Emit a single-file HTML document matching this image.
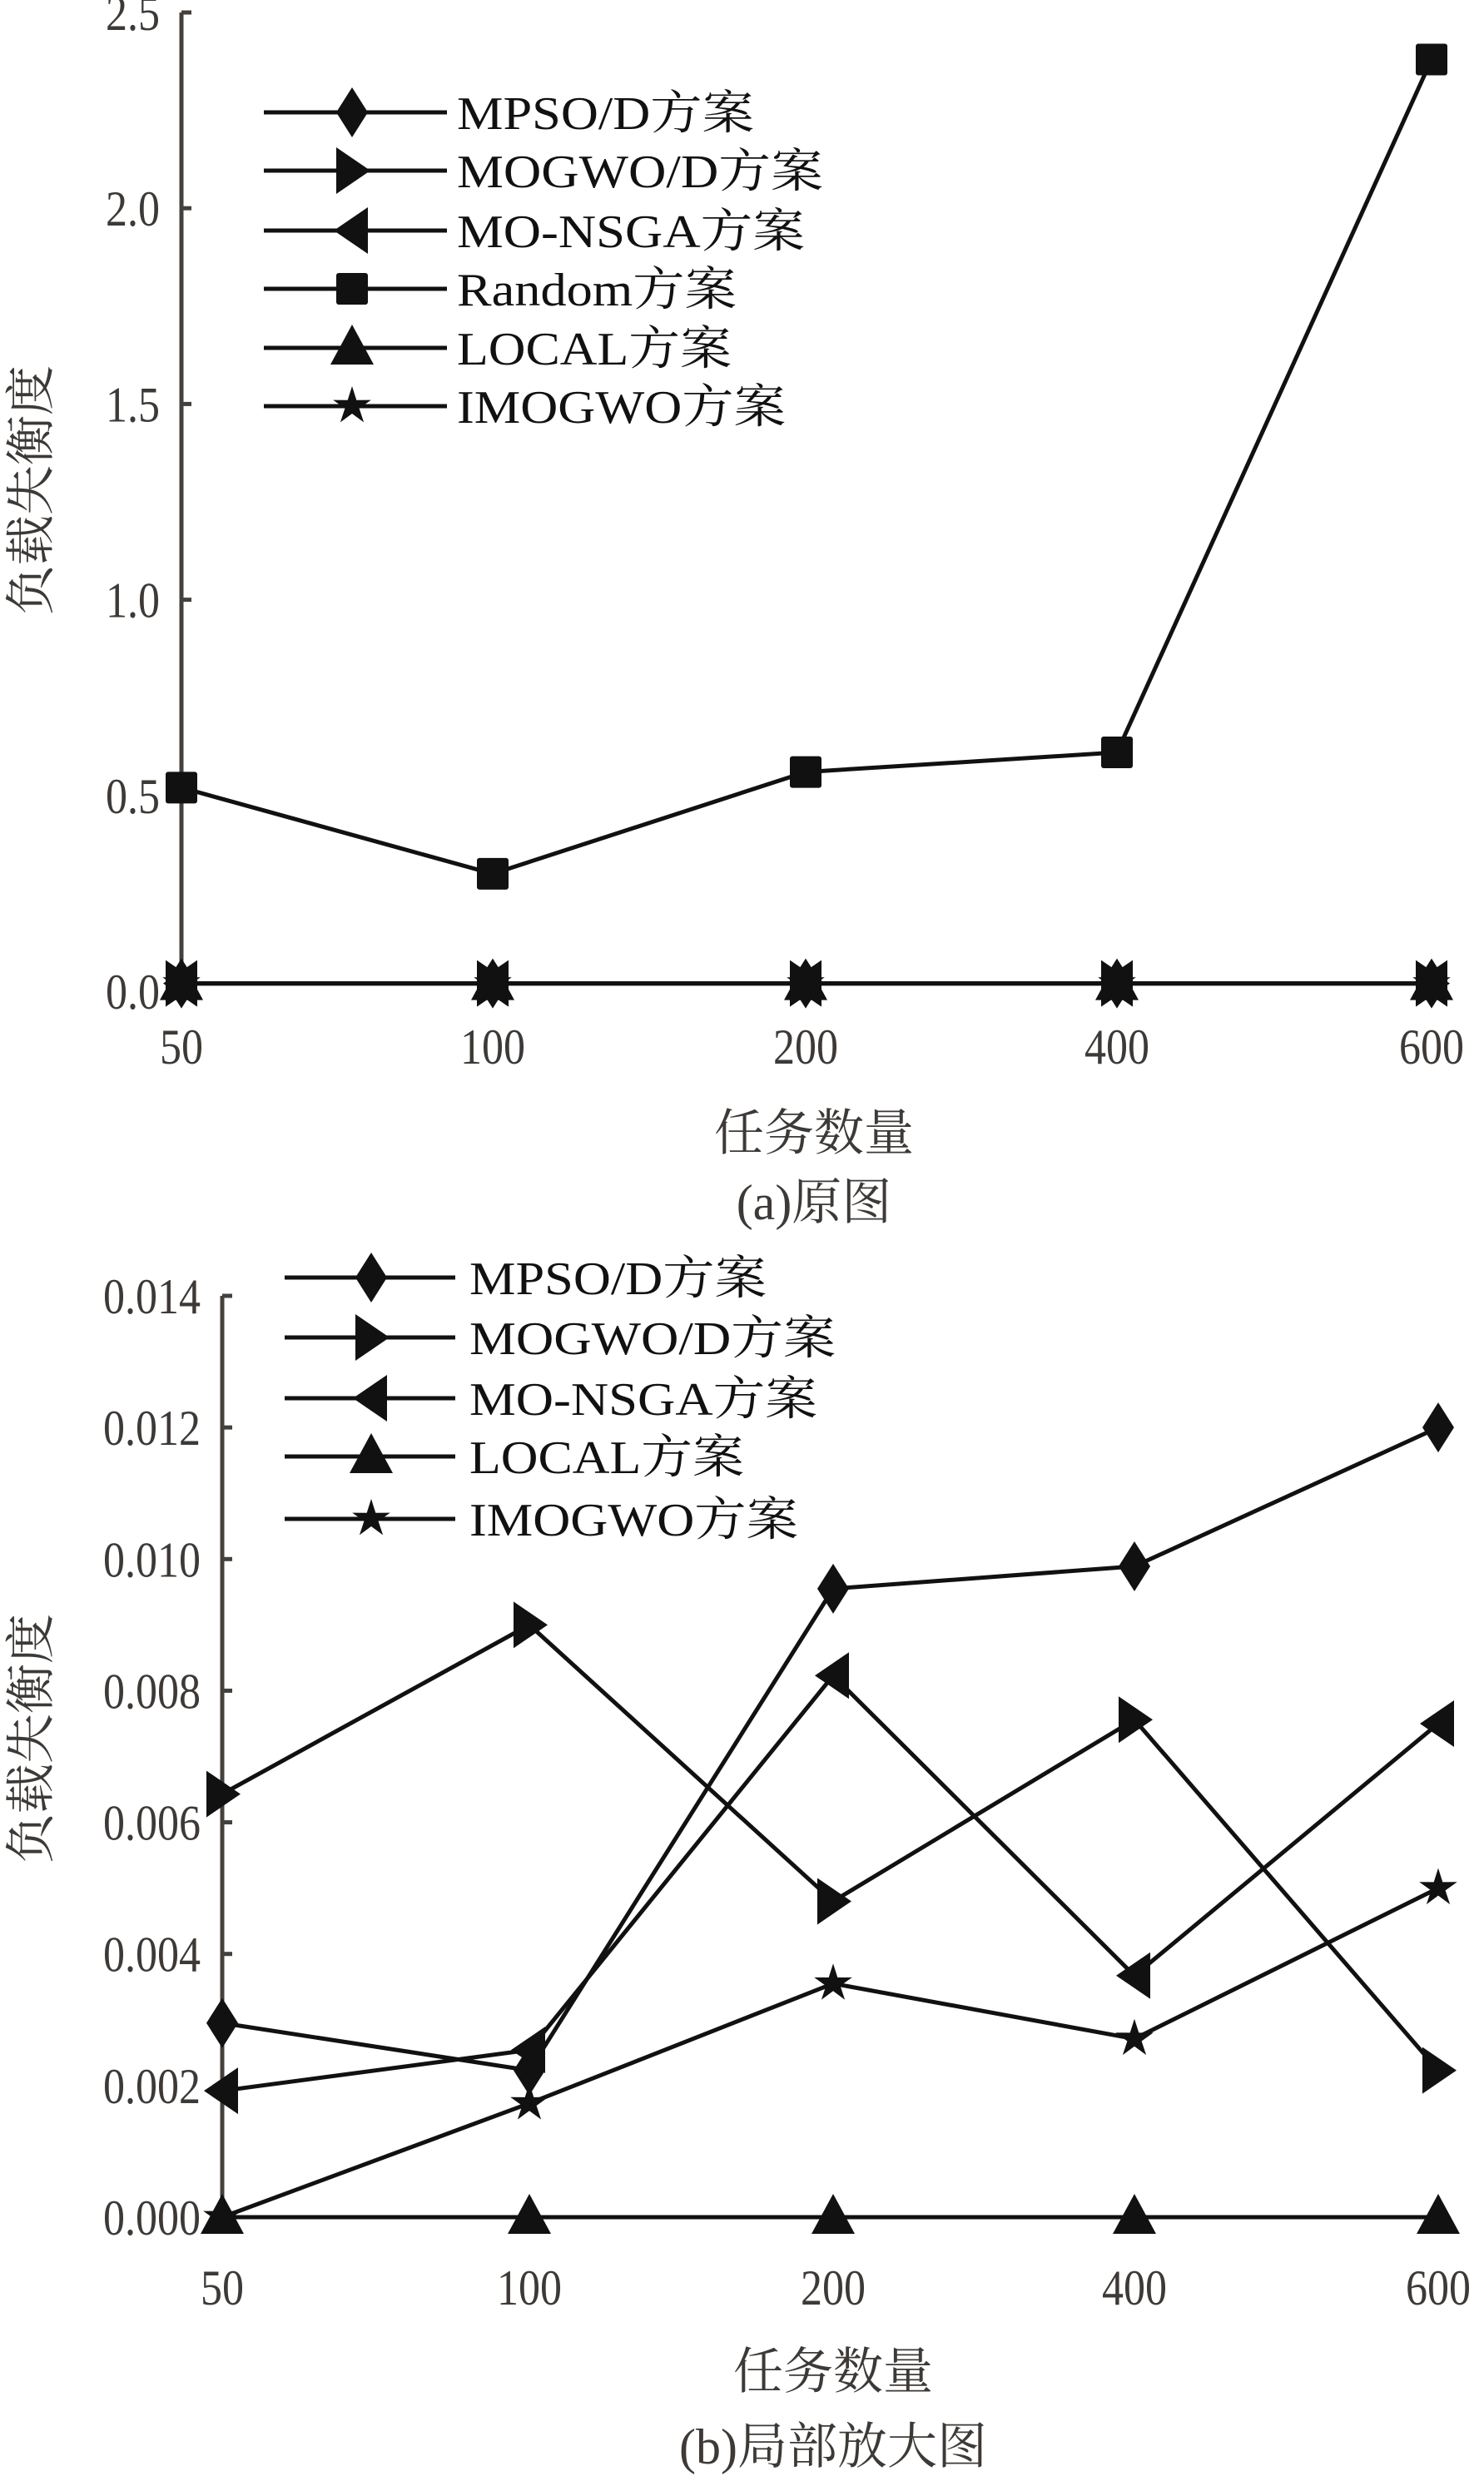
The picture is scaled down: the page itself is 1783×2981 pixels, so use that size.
<!DOCTYPE html>
<html><head><meta charset="utf-8"><style>
html,body{margin:0;padding:0;background:#fff;}
svg{display:block;}
.tk{font-family:"Liberation Serif","Noto Serif CJK SC",serif;font-size:60px;fill:#3d3936;}
.tt{font-family:"Liberation Serif","Noto Serif CJK SC",serif;font-size:60px;fill:#3d3936;}
.lg{font-family:"Liberation Serif","Noto Serif CJK SC",serif;font-size:56px;fill:#111;}
</style></head><body>
<svg id="c" width="1783" height="2981" viewBox="0 0 1783 2981" xmlns="http://www.w3.org/2000/svg"></svg>
<script>
// ---- data ----
const categories = ["50","100","200","400","600"];
// chart (a)
const aRandom = [0.52, 0.30, 0.56, 0.61, 2.38];
const aMPSO = [0.02, 0.02, 0.02, 0.02, 0.02];
const aMOGWO = [0.02, 0.02, 0.02, 0.02, 0.02];
const aNSGA = [0.02, 0.02, 0.02, 0.02, 0.02];
const aLOCAL = [0.02, 0.02, 0.02, 0.02, 0.02];
const aIMOGWO = [0.02, 0.02, 0.02, 0.02, 0.02];
const aTicks = ["0.0","0.5","1.0","1.5","2.0","2.5"];
const aTickVals = [0, 0.5, 1.0, 1.5, 2.0, 2.5];
// chart (b)
const bMPSO = [0.00295, 0.00223, 0.00955, 0.00989, 0.0120];
const bMOGWO = [0.00643, 0.0090, 0.0048, 0.00756, 0.00223];
const bNSGA = [0.00192, 0.00254, 0.00823, 0.00367, 0.0075];
const bLOCAL = [0, 0, 0, 0, 0];
const bIMOGWO = [0, 0.00173, 0.00355, 0.00271, 0.0050];
const bTicks = ["0.000","0.002","0.004","0.006","0.008","0.010","0.012","0.014"];
const bTickVals = [0,0.002,0.004,0.006,0.008,0.010,0.012,0.014];

const NS = "http://www.w3.org/2000/svg";
const svg = document.getElementById('c');
function el(tag, attrs, parent){ const e=document.createElementNS(NS,tag); for(const k in attrs) e.setAttribute(k,attrs[k]); (parent||svg).appendChild(e); return e; }
function tw(s){ let w=0; for(const ch of s) w += (ch==='.')?13:26; return w; }

function marker(g, type, x, y){
  let m;
  if(type==='diamond') m=el('polygon',{points:`${x},${y-30} ${x+19},${y} ${x},${y+30} ${x-19},${y}`,fill:'#111'},g);
  else if(type==='right') m=el('polygon',{points:`${x-19},${y-28} ${x+22},${y} ${x-19},${y+28}`,fill:'#111'},g);
  else if(type==='left') m=el('polygon',{points:`${x+19},${y-28} ${x-22},${y} ${x+19},${y+28}`,fill:'#111'},g);
  else if(type==='square') m=el('rect',{x:x-19,y:y-19,width:38,height:38,rx:3,fill:'#111'},g);
  else if(type==='triangle') m=el('polygon',{points:`${x},${y-28} ${x+26},${y+20} ${x-26},${y+20}`,fill:'#111'},g);
  else if(type==='star'){
    let p=[]; for(let i=0;i<10;i++){const r=i%2?9:24; const a=-Math.PI/2+i*Math.PI/5; p.push((x+r*Math.cos(a)).toFixed(1)+','+(y+r*Math.sin(a)).toFixed(1));}
    m=el('polygon',{points:p.join(' '),fill:'#111'},g);
  }
  return m;
}

function chart(cfg){
  const g = el('g',{});
  
  
  const xs = v => cfg.xpos[v];
  const ys = v => cfg.y0 - (v - cfg.vmin)/(cfg.vmax-cfg.vmin)*(cfg.y0-cfg.ytop);
  const ax = el('line',{x1:cfg.ax,y1:cfg.ytop,x2:cfg.ax,y2:cfg.y0,stroke:'#45403c','stroke-width':5},g);
  
  
  cfg.tickVals.forEach((v,i)=>{
    const y=ys(v);
    const t=el('line',{x1:cfg.ax,y1:y,x2:cfg.ax+12,y2:y,stroke:'#45403c','stroke-width':5},g);
    
    
    const tx=el('text',{x:cfg.ax-26,y:y+21,'text-anchor':'end',class:'tk',textLength:tw(cfg.ticks[i]),lengthAdjust:'spacingAndGlyphs'},g);
    tx.textContent=cfg.ticks[i];
    
    
  });
  categories.forEach((c,i)=>{
    const tx=el('text',{x:xs(i),y:cfg.xlabY,'text-anchor':'middle',class:'tk',textLength:tw(c),lengthAdjust:'spacingAndGlyphs'},g);
    tx.textContent=c;
    
    
  });
  cfg.series.forEach(s=>{
    const sg=el('g',{},g);
    
    
    const pts=s.vals.map((v,i)=>xs(i)+','+ys(v)).join(' ');
    el('polyline',{points:pts,fill:'none',stroke:'#111','stroke-width':5,'stroke-linejoin':'round'},sg);
    s.vals.forEach((v,i)=>{
      const m=marker(sg,s.m,xs(i),ys(v));
      
      
    });
  });
  cfg.legend.forEach((s,i)=>{
    const lg=el('g',{},g);
    
    
    const y=cfg.legY[i];
    el('line',{x1:cfg.legX1,y1:y,x2:cfg.legX2,y2:y,stroke:'#111','stroke-width':5},lg);
    marker(lg,s.m,cfg.legM,y);
    const t=el('text',{x:cfg.legT,y:y+20,class:'lg',textLength:s.w,lengthAdjust:'spacingAndGlyphs'},lg);
    t.textContent=s.label;
  });
  const xt=el('text',{x:cfg.titleX,y:cfg.xTitleY,'text-anchor':'middle',class:'tt'},g);
  xt.textContent='任务数量';
  
  
  const cap=el('text',{x:cfg.titleX,y:cfg.capY,'text-anchor':'middle',class:'tt'},g);
  cap.textContent=cfg.caption;
  
  
  const yt=el('text',{x:0,y:0,'text-anchor':'middle',class:'tt',transform:`translate(${cfg.yTitleX},${cfg.yTitleY}) rotate(-90)`},g);
  yt.textContent='负载失衡度';
  
  
}

chart({name:'chart-a-original', ax:218, ytop:15, y0:1191, vmin:0, vmax:2.5,
  xpos:[218,592,968,1342,1720], ticks:aTicks, tickVals:aTickVals, xlabY:1278,
  series:[
    {key:'random',m:'square',vals:aRandom},
    {key:'mpso',m:'diamond',vals:aMPSO},
    {key:'mogwo',m:'right',vals:aMOGWO},
    {key:'nsga',m:'left',vals:aNSGA},
    {key:'local',m:'triangle',vals:aLOCAL},
    {key:'imogwo',m:'star',vals:aIMOGWO}],
  legend:[
    {m:'diamond',label:'MPSO/D方案',w:357},
    {m:'right',label:'MOGWO/D方案',w:440},
    {m:'left',label:'MO-NSGA方案',w:418},
    {m:'square',label:'Random方案',w:336},
    {m:'triangle',label:'LOCAL方案',w:330},
    {m:'star',label:'IMOGWO方案',w:395}],
  legY:[135,205,277,347,418,488], legX1:317, legX2:537, legM:423, legT:549,
  titleX:978, xTitleY:1382, capY:1465, yTitleX:58, yTitleY:589, caption:'(a)原图'});

chart({name:'chart-b-zoomed', ax:267, ytop:1557, y0:2664, vmin:0, vmax:0.014,
  xpos:[267,636,1001,1363,1728], ticks:bTicks, tickVals:bTickVals, xlabY:2769,
  series:[
    {key:'mpso',m:'diamond',vals:bMPSO},
    {key:'mogwo',m:'right',vals:bMOGWO},
    {key:'nsga',m:'left',vals:bNSGA},
    {key:'local',m:'triangle',vals:bLOCAL},
    {key:'imogwo',m:'star',vals:bIMOGWO}],
  legend:[
    {m:'diamond',label:'MPSO/D方案',w:357},
    {m:'right',label:'MOGWO/D方案',w:440},
    {m:'left',label:'MO-NSGA方案',w:418},
    {m:'triangle',label:'LOCAL方案',w:330},
    {m:'star',label:'IMOGWO方案',w:395}],
  legY:[1535,1607,1680,1750,1825], legX1:342, legX2:547, legM:446, legT:564,
  titleX:1001, xTitleY:2870, capY:2960, yTitleX:58, yTitleY:2089, caption:'(b)局部放大图'});
</script>
</body></html>
